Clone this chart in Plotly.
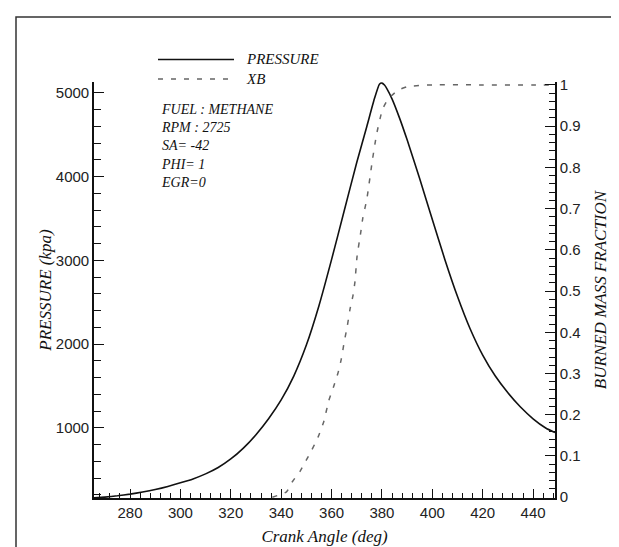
import plotly.graph_objects as go

# ---- data ----
crank_p = [265.7, 270, 275, 280, 285, 290, 295, 300, 305, 310, 315, 320, 325, 330, 335, 340,
           345, 350, 355, 360, 365, 370, 374, 377, 379, 380, 381, 382, 384, 387, 390, 395, 400,
           405, 410, 415, 420, 425, 430, 435, 440, 445, 448.7]
pressure = [165, 175, 190, 210, 235, 265, 302, 345, 392, 452, 528, 630, 760, 920, 1110, 1335,
            1620, 1990, 2460, 3010, 3590, 4170, 4600, 4930, 5105, 5118, 5095, 5050, 4930, 4700, 4440,
            3975, 3490, 3010, 2570, 2185, 1870, 1620, 1420, 1250, 1110, 1000, 945]

crank_xb = [336.5, 342.1, 344.5, 347.6, 349.9, 352.2, 354.6, 356.9, 358.9, 360.8, 362.6, 363.9,
            365.1, 366.2, 367.3, 368.5, 369.3, 370.1, 371.6, 372.4, 374.0, 376.3, 377.9, 380.2,
            382.5, 386.4, 390.3, 400, 420, 440, 448.7]
xb = [0.0, 0.013, 0.038, 0.064, 0.089, 0.115, 0.145, 0.183, 0.234, 0.268, 0.302, 0.336,
      0.379, 0.413, 0.455, 0.489, 0.523, 0.583, 0.643, 0.677, 0.723, 0.821, 0.881, 0.940,
      0.966, 0.987, 0.996, 1.0, 1.0, 1.0, 1.0]

x_ticks = [280, 300, 320, 340, 360, 380, 400, 420, 440]
p_ticks = [1000, 2000, 3000, 4000, 5000]
xb_ticks = [0, 0.1, 0.2, 0.3, 0.4, 0.5, 0.6, 0.7, 0.8, 0.9, 1]
xb_tick_text = ["0", "0.1", "0.2", "0.3", "0.4", "0.5", "0.6", "0.7", "0.8", "0.9", "1"]

series_names = ["PRESSURE", "XB"]
info_lines = ["FUEL : METHANE", "RPM : 2725", "SA= -42", "PHI= 1", "EGR=0"]

SERIF = "Liberation Serif, Times New Roman, serif"
SANS = "Liberation Sans, Arial, sans-serif"
P_COLOR = "#111111"
XB_COLOR = "#666666"
XB_DASH = "5px,8px"

fig = go.Figure()
fig.add_trace(go.Scatter(x=crank_p, y=pressure, name=series_names[0], mode="lines",
                         line=dict(color=P_COLOR, width=1.6, shape="spline", smoothing=0.5),
                         yaxis="y", showlegend=False))
fig.add_trace(go.Scatter(x=crank_xb, y=xb, name=series_names[1], mode="lines",
                         line=dict(color=XB_COLOR, width=1.5, dash=XB_DASH, shape="spline", smoothing=0.5),
                         yaxis="y2", showlegend=False))

W, H = 619, 547
L, R, T, B = 86, 72, 74, 57
pw, ph = W - L - R, H - T - B

def px(xp):
    return (xp - L) / pw

def py(yp):
    return (H - B - yp) / ph

LEG_SIZE = 15
leg_line_h = 1.3 * LEG_SIZE
leg_y0 = 51.5
INFO_SIZE = 14
annotations = [
    dict(text="<br>".join("<i>" + n + "</i>" for n in series_names), xref="paper", yref="paper",
         x=px(236), y=py(leg_y0 - leg_line_h / 2 - 1), xanchor="left", yanchor="top", align="left",
         showarrow=False, font=dict(family=SERIF, size=LEG_SIZE, color="#111")),
    dict(text="<br>".join("<i>" + t + "</i>" for t in info_lines), xref="paper", yref="paper",
         x=px(151), y=py(102 - 1.3 * INFO_SIZE / 2 - 1), xanchor="left", yanchor="top", align="left",
         showarrow=False, font=dict(family=SERIF, size=INFO_SIZE, color="#111")),
]

shapes = [
    dict(type="rect", xref="paper", yref="paper", x0=px(8), x1=px(617), y0=py(570), y1=py(9),
         line=dict(color="#333", width=1.5), fillcolor="rgba(0,0,0,0)", layer="below"),
    dict(type="line", xref="paper", yref="paper", x0=px(150), x1=px(226), y0=py(leg_y0), y1=py(leg_y0),
         line=dict(color=P_COLOR, width=1.4)),
    dict(type="line", xref="paper", yref="paper", x0=px(150), x1=px(226),
         y0=py(leg_y0 + leg_line_h), y1=py(leg_y0 + leg_line_h),
         line=dict(color=XB_COLOR, width=1.5, dash=XB_DASH)),
]

fig.update_layout(
    width=W, height=H,
    margin=dict(l=L, r=R, t=T, b=B, autoexpand=False),
    paper_bgcolor="white", plot_bgcolor="white",
    showlegend=False,
    xaxis=dict(range=[265.7, 448.7], tickvals=x_ticks, ticks="inside", ticklen=9, tickwidth=1.3,
               tickcolor="#111", showline=True, linecolor="#111", linewidth=1.6, mirror=False,
               showgrid=False, zeroline=False,
               minor=dict(dtick=4, tick0=0, ticks="inside", ticklen=5, tickcolor="#111", tickwidth=1),
               tickfont=dict(family=SANS, size=15, color="#222"),
               title=dict(text="<i>Crank Angle (deg)</i>", font=dict(family=SERIF, size=17, color="#111"),
                          standoff=10)),
    yaxis=dict(range=[164, 5131], tickvals=p_ticks, ticks="inside", ticklen=10, tickwidth=1.3,
               tickcolor="#111", showline=True, linecolor="#111", linewidth=1.6,
               showgrid=False, zeroline=False,
               minor=dict(dtick=200, tick0=0, ticks="inside", ticklen=7, tickcolor="#111", tickwidth=1),
               tickfont=dict(family=SANS, size=15, color="#222"),
               title=dict(text="<i>PRESSURE (kpa)</i>", font=dict(family=SERIF, size=17, color="#111"),
                          standoff=0)),
    yaxis2=dict(range=[-0.002, 1.007], overlaying="y", side="right", tickvals=xb_ticks,
                ticktext=xb_tick_text, ticks="inside", ticklen=10, tickwidth=1.3, tickcolor="#111",
                showline=True, linecolor="#111", linewidth=1.6, showgrid=False, zeroline=False,
                minor=dict(dtick=0.02, tick0=0, ticks="inside", ticklen=6, tickcolor="#111", tickwidth=1),
                tickfont=dict(family=SANS, size=15, color="#222"),
                title=dict(text="<i>BURNED MASS FRACTION</i>", font=dict(family=SERIF, size=17, color="#111"),
                           standoff=14)),
    annotations=annotations,
    shapes=shapes,
)

fig.write_html("out.html")
